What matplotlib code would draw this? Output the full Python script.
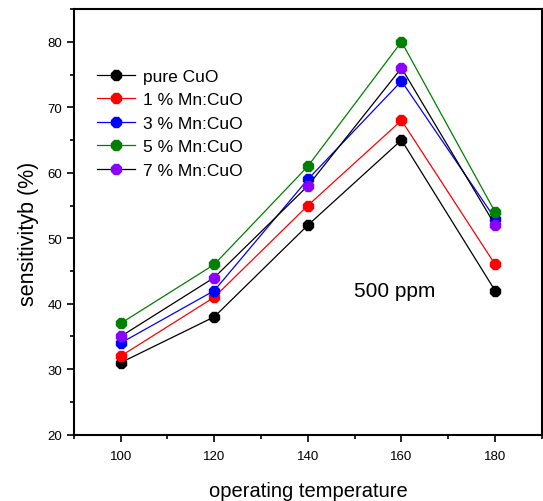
import matplotlib
matplotlib.use("Agg")
import matplotlib.pyplot as plt
from matplotlib.ticker import MultipleLocator

temps = [100, 120, 140, 160, 180]
pure_cuo = [31, 38, 52, 65, 42]
mn1 = [32, 41, 55, 68, 46]
mn3 = [34, 42, 59, 74, 53]
mn5 = [37, 46, 61, 80, 54]
mn7 = [35, 44, 58, 76, 52]

labels = ["pure CuO", "1 % Mn:CuO", "3 % Mn:CuO", "5 % Mn:CuO", "7 % Mn:CuO"]
series = [pure_cuo, mn1, mn3, mn5, mn7]
line_colors = ["black", "red", "blue", "green", "black"]
marker_colors = ["black", "red", "blue", "green", "#8B00FF"]

plt.rcParams['font.family'] = ['Liberation Sans', 'DejaVu Sans']

fig = plt.figure(figsize=(5.43, 5.02), dpi=100)
ax = fig.add_axes([0.136, 0.132, 0.862, 0.848])

for vals, lab, lc, mc in zip(series, labels, line_colors, marker_colors):
    ax.plot(temps, vals, color=lc, lw=0.9, marker='8', markersize=8,
            markerfacecolor=mc, markeredgecolor=mc, label=lab)

ax.set_xlim(90, 190)
ax.set_ylim(20, 85)
ax.xaxis.set_major_locator(MultipleLocator(20))
ax.xaxis.set_minor_locator(MultipleLocator(10))
ax.yaxis.set_major_locator(MultipleLocator(10))
ax.yaxis.set_minor_locator(MultipleLocator(5))
ax.tick_params(which='both', direction='out', top=False, right=False, labelsize=9.5, width=1.2)
ax.tick_params(which='major', length=5)
ax.tick_params(which='minor', length=3)
ax.tick_params(axis='x', pad=6)
for name, s in ax.spines.items():
    s.set_linewidth(1.5)
    s.set_visible(True)
    s.set_color('black')
    s.set_zorder(5)

ax.set_xlabel("operating temperature", fontsize=14.5, labelpad=14)
ax.set_ylabel("sensitivityb (%)", fontsize=15.5)
ax.yaxis.set_label_coords(-0.075, 0.475)

ax.text(158.5, 42, "500 ppm", fontsize=15, ha='center', va='center')

leg = ax.legend(loc='upper left', bbox_to_anchor=(0.05, 0.86), frameon=False,
                fontsize=12.5, handlelength=2.2, labelspacing=0.48, borderaxespad=0,
                borderpad=0, handletextpad=0.45)

fig.savefig("out.png", dpi=100)
